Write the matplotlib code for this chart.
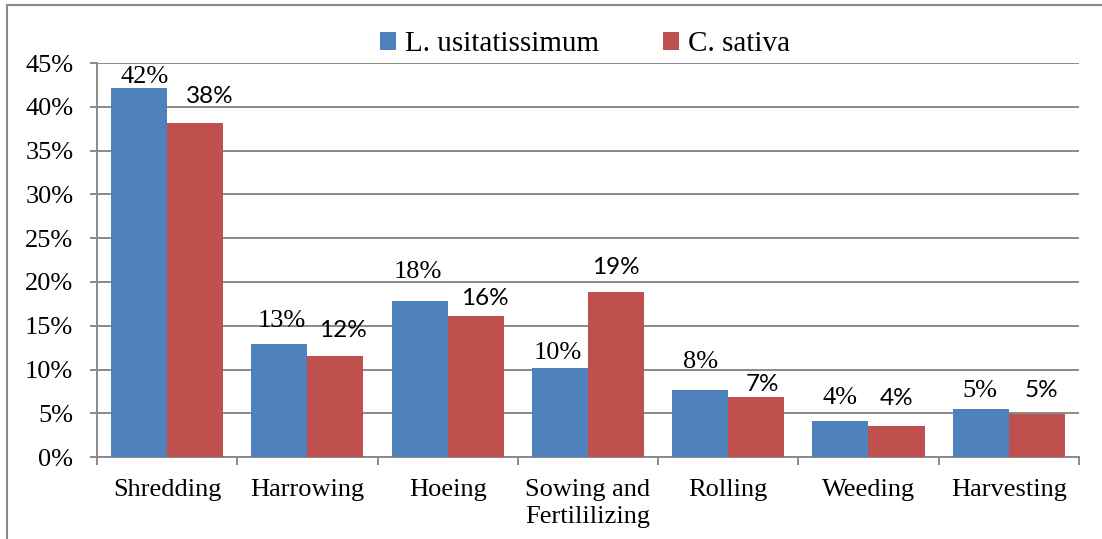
import numpy as np
import matplotlib.pyplot as plt
from matplotlib.lines import Line2D
from matplotlib.ticker import FuncFormatter

# data
categories = ['Shredding', 'Harrowing', 'Hoeing', 'Sowing and\nFertililizing',
              'Rolling', 'Weeding', 'Harvesting']
linum = [42.1, 12.9, 17.8, 10.2, 7.7, 4.1, 5.5]
sativa = [38.2, 11.6, 16.1, 18.8, 6.9, 3.6, 4.9]
linum_labels = ['42%', '13%', '18%', '10%', '8%', '4%', '5%']
sativa_labels = ['38%', '12%', '16%', '19%', '7%', '4%', '5%']

# label placement (pixel offsets from bar top centre), hand-tuned
linum_dx = [6, 2, -2, -2, 0, 0, -1]
linum_dy = [5, 17, 23, 9, 22, 17, 12]
sativa_dx = [15, 7, 9, 0, 6, 0, 5]
sativa_dy = [20, 19, 11, 18, 6, 21, 17]

blue = '#4F81BD'
red = '#C0504D'
grey = '#898989'
serif = 'Liberation Serif'

plt.rcParams['font.family'] = serif

fig = plt.figure(figsize=(11.02, 5.39), dpi=100)
ax = fig.add_axes([0.088, 0.152, 0.891, 0.731])

x = np.arange(len(categories))
w = 0.4
b1 = ax.bar(x - w / 2, linum, w, color=blue, label='L. usitatissimum', zorder=3)
b2 = ax.bar(x + w / 2, sativa, w, color=red, label='C. sativa', zorder=3)

for i in range(len(x)):
    ax.annotate(linum_labels[i], (x[i] - w / 2, linum[i]),
                xytext=(linum_dx[i], linum_dy[i]), textcoords='offset pixels',
                ha='center', va='baseline', fontsize=19, family=serif)
    ax.annotate(sativa_labels[i], (x[i] + w / 2, sativa[i]),
                xytext=(sativa_dx[i], sativa_dy[i]), textcoords='offset pixels',
                ha='center', va='baseline', fontsize=17.5, family='Lato')

ax.set_xlim(-0.5, len(categories) - 0.5)
ax.set_ylim(0, 45)
ax.set_yticks(np.arange(0, 46, 5))
ax.yaxis.set_major_formatter(FuncFormatter(lambda v, p: '%d%%' % v))
ax.yaxis.grid(True, color=grey, lw=1.4, zorder=0)

ax.set_xticks(np.arange(-0.5, len(categories), 1))
ax.set_xticklabels([])
ax.set_xticks(x, minor=True)
ax.set_xticklabels(categories, minor=True, fontsize=19, linespacing=1.3, va='top')
ax.tick_params(axis='x', which='major', direction='out', length=5.5, width=1.4, color=grey)
ax.tick_params(axis='x', which='minor', length=0, pad=16)
ax.tick_params(axis='y', direction='out', length=5, width=1.4, color=grey, labelsize=19, pad=12)

for s in ['top', 'right']:
    ax.spines[s].set_visible(False)
for s in ['left', 'bottom']:
    ax.spines[s].set_color(grey)
    ax.spines[s].set_linewidth(1.4)

fig.legend(handles=[b1, b2], loc='center', bbox_to_anchor=(0.531, 0.918),
           ncol=2, frameon=False, fontsize=21, handlelength=0.55, handleheight=0.55,
           handletextpad=0.3, columnspacing=2.2)

# outer chart frame (only top and left edges are visible)
fig.add_artist(Line2D([7 / 1102, 7 / 1102], [0, 1 - 5 / 539], color=grey, lw=1.5,
                      transform=fig.transFigure))
fig.add_artist(Line2D([7 / 1102, 1], [1 - 5 / 539, 1 - 5 / 539], color=grey, lw=1.5,
                      transform=fig.transFigure))

fig.savefig('out.png', dpi=100)
